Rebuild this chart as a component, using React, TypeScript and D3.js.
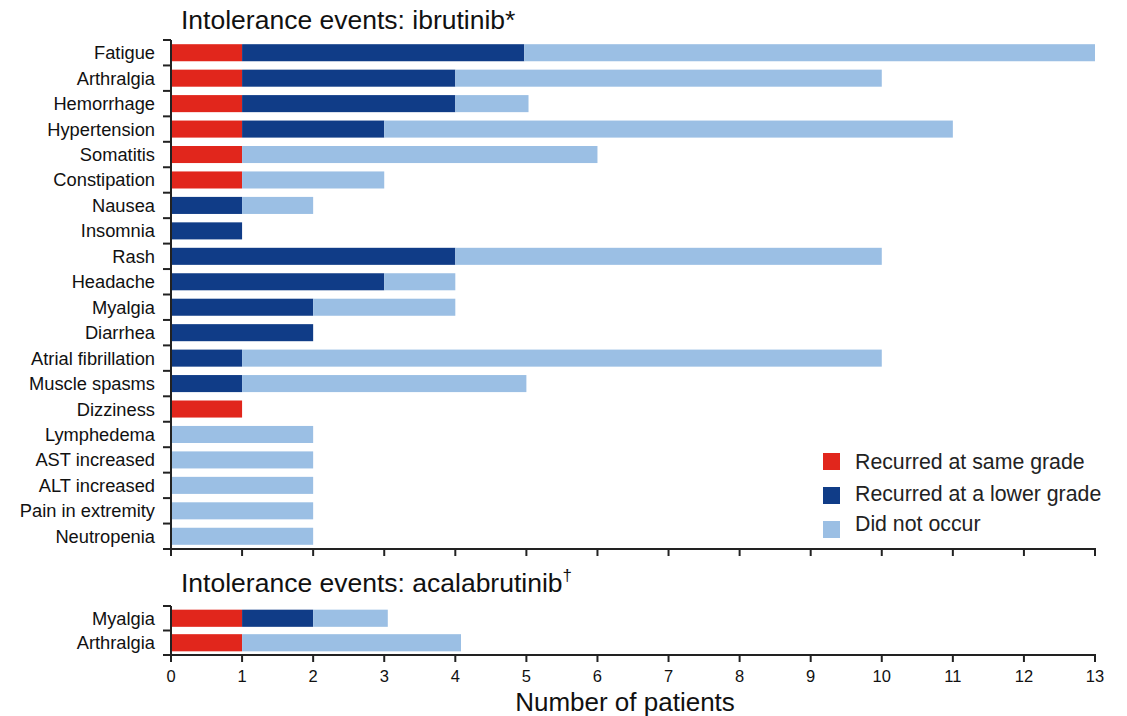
import React from "react";
import * as d3 from "d3";

const ibrCategories = [
  "Fatigue", "Arthralgia", "Hemorrhage", "Hypertension", "Somatitis", "Constipation",
  "Nausea", "Insomnia", "Rash", "Headache", "Myalgia", "Diarrhea", "Atrial fibrillation",
  "Muscle spasms", "Dizziness", "Lymphedema", "AST increased", "ALT increased",
  "Pain in extremity", "Neutropenia",
];
const ibrSame = [1, 1, 1, 1, 1, 1, 0, 0, 0, 0, 0, 0, 0, 0, 1, 0, 0, 0, 0, 0];
const ibrLower = [3.97, 3, 3, 2, 0, 0, 1, 1, 4, 3, 2, 2, 1, 1, 0, 0, 0, 0, 0, 0];
const ibrNot = [8.03, 6, 1.03, 8, 5, 2, 1, 0, 6, 1, 2, 0, 9, 4, 0, 2, 2, 2, 2, 2];

const acaCategories = ["Myalgia", "Arthralgia"];
const acaSame = [1, 1];
const acaLower = [1, 0];
const acaNot = [1.05, 3.08];

const xTicks = d3.range(0, 14);
const seriesNames = ["Recurred at same grade", "Recurred at a lower grade", "Did not occur"];
const seriesColors = ["#e1261c", "#103c87", "#9bbfe4"];

const FONT = "Arial, 'Liberation Sans', Helvetica, sans-serif";
const AXIS = "#222";

function Panel({ cats, same, lower, notOcc, y0, y1, pad, x }: any) {
  const y = d3.scaleBand<string>().domain(cats).range([y0, y1]).paddingInner(pad).paddingOuter(pad / 2);
  const step = y.step();
  const bounds = d3.range(cats.length + 1).map((i) => y0 + i * step);
  return (
    <g>
      {cats.map((c: string, i: number) => {
        const vals = [same[i], lower[i], notOcc[i]];
        let acc = 0;
        return (
          <g key={c}>
            {vals.map((v, k) => {
              const start = acc;
              acc += v;
              if (v <= 0) return null;
              return (
                <rect key={k} x={x(start)} y={y(c)} width={x(start + v) - x(start)} height={y.bandwidth()} fill={seriesColors[k]} />
              );
            })}
            <text x={155} y={(y(c) as number) + y.bandwidth() / 2} textAnchor="end" dominantBaseline="central" fontSize={18.3} fontFamily={FONT} fill="#111">{c}</text>
          </g>
        );
      })}
      <line x1={x(0)} x2={x(0)} y1={y0} y2={y1} stroke={AXIS} strokeWidth={2} />
      {bounds.map((b, i) => (
        <line key={i} x1={x(0) - 8} x2={x(0)} y1={b} y2={b} stroke={AXIS} strokeWidth={2} />
      ))}
      <line x1={x(0) - 1} x2={x(13) + 1} y1={y1} y2={y1} stroke={AXIS} strokeWidth={2} />
      {xTicks.map((t) => (
        <line key={t} x1={x(t)} x2={x(t)} y1={y1} y2={y1 + 7} stroke={AXIS} strokeWidth={2} />
      ))}
    </g>
  );
}

export default function App() {
  const x = d3.scaleLinear().domain([0, 13]).range([171, 1095]);
  const legendTextY = [462, 494, 524];
  return (
    <svg width={1127} height={716} style={{ position: "absolute", left: 0, top: 0 }}>
      <rect width={1127} height={716} fill="#fff" />
      <text x={181} y={29} fontSize={26.5} fontFamily={FONT} fill="#111">Intolerance events: ibrutinib*</text>
      <Panel cats={ibrCategories} same={ibrSame} lower={ibrLower} notOcc={ibrNot} y0={40} y1={549} pad={0.33} x={x} />
      <text x={181} y={592} fontSize={26.5} fontFamily={FONT} fill="#111">
        Intolerance events: acalabrutinib<tspan fontSize={17} dy={-11}>†</tspan>
      </text>
      <Panel cats={acaCategories} same={acaSame} lower={acaLower} notOcc={acaNot} y0={606} y1={655} pad={0.3} x={x} />
      {xTicks.map((t) => (
        <text key={t} x={x(t)} y={676} textAnchor="middle" dominantBaseline="central" fontSize={16.5} fontFamily={FONT} fill="#111">{t}</text>
      ))}
      <text x={625} y={711} textAnchor="middle" fontSize={26} fontFamily={FONT} fill="#111">Number of patients</text>
      {seriesNames.map((n, i) => (
        <g key={n}>
          <rect x={823} y={453 + i * 34} width={17} height={17} fill={seriesColors[i]} />
          <text x={855} y={legendTextY[i]} dominantBaseline="central" fontSize={21.3} fontFamily={FONT} fill="#222">{n}</text>
        </g>
      ))}
    </svg>
  );
}
